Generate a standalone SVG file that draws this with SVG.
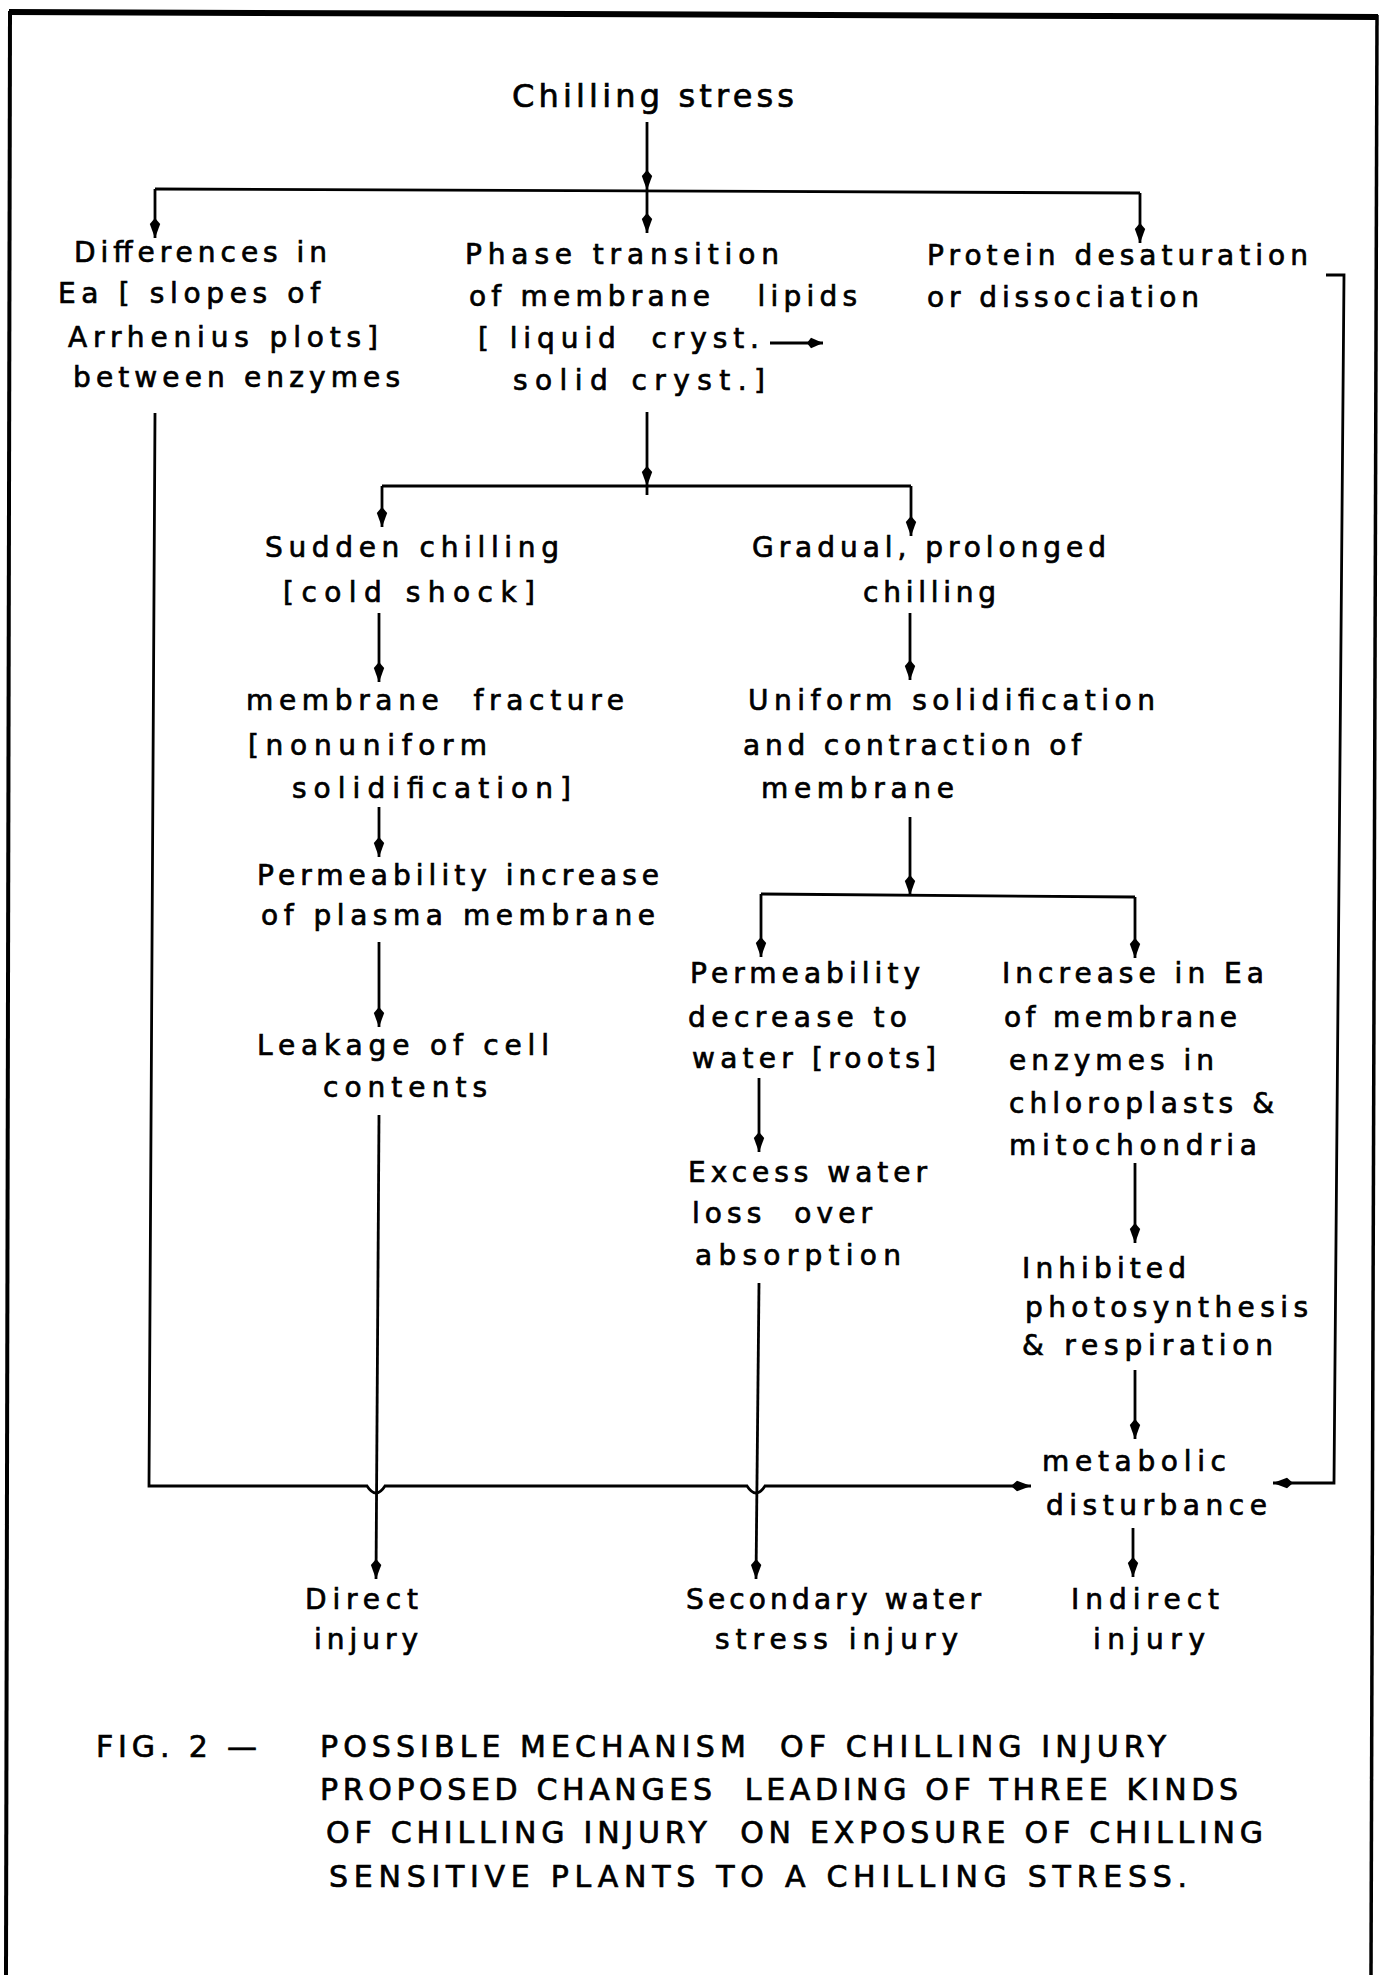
<svg xmlns="http://www.w3.org/2000/svg" width="1384" height="1975" viewBox="0 0 1384 1975">
  <style>
    .t { font-family: "DejaVu Sans", "Liberation Sans", sans-serif; font-size: 28px; fill: #000; stroke: #000; stroke-width: 0.7px; }
    .title { font-size: 32px; }
    .cap { font-size: 30px; }
    .c { fill: none; stroke: #000; stroke-width: 2.8; }
    .a { marker-end: url(#ah); }
    .frame { fill: none; stroke: #000; }
  </style>
  <defs>
    <marker id="ah" viewBox="0 0 20 12" refX="20" refY="6" markerWidth="20" markerHeight="12" markerUnits="userSpaceOnUse" orient="auto">
      <path d="M0,6 L6,0.8 L20,6 L6,11.2 Z" fill="#000"/>
    </marker>
    <marker id="ahs" viewBox="0 0 16 12" refX="16" refY="6" markerWidth="16" markerHeight="12" markerUnits="userSpaceOnUse" orient="auto">
      <path d="M0,6 L4,0.8 L16,6 L4,11.2 Z" fill="#000"/>
    </marker>
  </defs>

  <!-- page frame: heavy top rule, open bottom -->
  <g id="frame">
    <path class="frame" d="M9,12 L1378,17" stroke-width="6"/>
    <path class="frame" d="M10,11 L6,1975" stroke-width="4"/>
    <path class="frame" d="M1377,15 L1371,1975" stroke-width="3.5"/>
  </g>

  <g id="connectors">
    <!-- chilling stress trunk and first split -->
    <path class="c a" d="M647,122 L647,190"/>
    <path class="c" d="M155,189 L1140,193"/>
    <path class="c a" d="M155,189 L155,238"/>
    <path class="c a" d="M647,191 L647,233"/>
    <path class="c a" d="M1140,193 L1140,243"/>

    <!-- phase transition split -->
    <path class="c a" d="M647,412 L647,486"/>
    <path class="c" d="M647,486 L647,495"/>
    <path class="c" d="M382,486 L911,486"/>
    <path class="c a" d="M382,486 L382,527"/>
    <path class="c a" d="M911,486 L911,536"/>

    <!-- sudden chilling chain -->
    <path class="c a" d="M379,613 L379,682"/>
    <path class="c a" d="M379,807 L379,857"/>
    <path class="c a" d="M379,942 L379,1027"/>
    <path class="c a" d="M379,1115 L376,1579"/>

    <!-- gradual chilling chain -->
    <path class="c a" d="M910,613 L910,680"/>
    <path class="c a" d="M910,817 L910,895"/>
    <path class="c" d="M761,894 L1135,897"/>
    <path class="c a" d="M761,894 L761,957"/>
    <path class="c a" d="M1135,897 L1135,958"/>
    <path class="c a" d="M759,1078 L759,1152"/>
    <path class="c a" d="M759,1283 L756,1579"/>
    <path class="c a" d="M1135,1163 L1135,1243"/>
    <path class="c a" d="M1135,1370 L1135,1439"/>
    <path class="c a" d="M1133,1528 L1133,1577"/>

    <!-- left return line with hops over the verticals -->
    <path class="c a" d="M155,413 L149,1486 L367,1486 Q376,1500 385,1486 L747,1486 Q756,1500 765,1486 L1031,1486"/>

    <!-- right return line from protein desaturation -->
    <path class="c a" d="M1326,275 L1344,275 L1334,1483 L1273,1483"/>
  </g>

  <g id="n-chilling-stress">
    <text class="t title" x="512" y="107" textLength="282" lengthAdjust="spacing">Chilling stress</text>
  </g>

  <g id="n-differences">
    <text class="t" x="74" y="262" textLength="253" lengthAdjust="spacing">Differences in</text>
    <text class="t" x="58" y="303" textLength="262" lengthAdjust="spacing">Ea [ slopes of</text>
    <text class="t" x="68" y="347" textLength="310" lengthAdjust="spacing">Arrhenius plots]</text>
    <text class="t" x="73" y="387" textLength="327" lengthAdjust="spacing">between enzymes</text>
  </g>

  <g id="n-phase-transition">
    <text class="t" x="465" y="264" textLength="314" lengthAdjust="spacing">Phase transition</text>
    <text class="t" x="469" y="306" textLength="388" lengthAdjust="spacing">of membrane&#160;&#160; lipids</text>
    <text class="t" x="478" y="348" textLength="281" lengthAdjust="spacing">[ liquid&#160; cryst.</text>
    <path class="c" d="M770,343 L823,343" stroke-width="3" marker-end="url(#ahs)"/>
    <text class="t" x="513" y="390" textLength="252" lengthAdjust="spacing">solid cryst.]</text>
  </g>

  <g id="n-protein">
    <text class="t" x="927" y="265" textLength="381" lengthAdjust="spacing">Protein desaturation</text>
    <text class="t" x="927" y="307" textLength="272" lengthAdjust="spacing">or dissociation</text>
  </g>

  <g id="n-sudden">
    <text class="t" x="265" y="557" textLength="294" lengthAdjust="spacing">Sudden chilling</text>
    <text class="t" x="283" y="602" textLength="252" lengthAdjust="spacing">[cold shock]</text>
  </g>

  <g id="n-gradual">
    <text class="t" x="752" y="557" textLength="354" lengthAdjust="spacing">Gradual, prolonged</text>
    <text class="t" x="863" y="602" textLength="133" lengthAdjust="spacing">chilling</text>
  </g>

  <g id="n-fracture">
    <text class="t" x="246" y="710" textLength="378" lengthAdjust="spacing">membrane&#160; fracture</text>
    <text class="t" x="248" y="755" textLength="239" lengthAdjust="spacing">[nonuniform</text>
    <text class="t" x="292" y="798" textLength="279" lengthAdjust="spacing">solidification]</text>
  </g>

  <g id="n-uniform">
    <text class="t" x="748" y="710" textLength="407" lengthAdjust="spacing">Uniform solidification</text>
    <text class="t" x="743" y="755" textLength="338" lengthAdjust="spacing">and contraction of</text>
    <text class="t" x="761" y="798" textLength="193" lengthAdjust="spacing">membrane</text>
  </g>

  <g id="n-perm-increase">
    <text class="t" x="257" y="885" textLength="402" lengthAdjust="spacing">Permeability increase</text>
    <text class="t" x="261" y="925" textLength="394" lengthAdjust="spacing">of plasma membrane</text>
  </g>

  <g id="n-leakage">
    <text class="t" x="257" y="1055" textLength="292" lengthAdjust="spacing">Leakage of cell</text>
    <text class="t" x="323" y="1097" textLength="164" lengthAdjust="spacing">contents</text>
  </g>

  <g id="n-perm-decrease">
    <text class="t" x="690" y="983" textLength="230" lengthAdjust="spacing">Permeability</text>
    <text class="t" x="688" y="1027" textLength="219" lengthAdjust="spacing">decrease to</text>
    <text class="t" x="692" y="1068" textLength="244" lengthAdjust="spacing">water [roots]</text>
  </g>

  <g id="n-excess-water">
    <text class="t" x="688" y="1182" textLength="239" lengthAdjust="spacing">Excess water</text>
    <text class="t" x="692" y="1223" textLength="180" lengthAdjust="spacing">loss&#160; over</text>
    <text class="t" x="695" y="1265" textLength="206" lengthAdjust="spacing">absorption</text>
  </g>

  <g id="n-ea-increase">
    <text class="t" x="1002" y="983" textLength="262" lengthAdjust="spacing">Increase in Ea</text>
    <text class="t" x="1004" y="1027" textLength="233" lengthAdjust="spacing">of membrane</text>
    <text class="t" x="1009" y="1070" textLength="205" lengthAdjust="spacing">enzymes in</text>
    <text class="t" x="1009" y="1113" textLength="265" lengthAdjust="spacing">chloroplasts &amp;</text>
    <text class="t" x="1009" y="1155" textLength="248" lengthAdjust="spacing">mitochondria</text>
  </g>

  <g id="n-inhibited">
    <text class="t" x="1022" y="1278" textLength="164" lengthAdjust="spacing">Inhibited</text>
    <text class="t" x="1025" y="1317" textLength="283" lengthAdjust="spacing">photosynthesis</text>
    <text class="t" x="1022" y="1355" textLength="251" lengthAdjust="spacing">&amp; respiration</text>
  </g>

  <g id="n-metabolic">
    <text class="t" x="1042" y="1471" textLength="184" lengthAdjust="spacing">metabolic</text>
    <text class="t" x="1046" y="1515" textLength="221" lengthAdjust="spacing">disturbance</text>
  </g>

  <g id="n-direct">
    <text class="t" x="305" y="1609" textLength="113" lengthAdjust="spacing">Direct</text>
    <text class="t" x="314" y="1649" textLength="104" lengthAdjust="spacing">injury</text>
  </g>

  <g id="n-secondary">
    <text class="t" x="686" y="1609" textLength="295" lengthAdjust="spacing">Secondary water</text>
    <text class="t" x="715" y="1649" textLength="243" lengthAdjust="spacing">stress injury</text>
  </g>

  <g id="n-indirect">
    <text class="t" x="1071" y="1609" textLength="148" lengthAdjust="spacing">Indirect</text>
    <text class="t" x="1093" y="1649" textLength="112" lengthAdjust="spacing">injury</text>
  </g>

  <g id="caption">
    <text class="t cap" x="96" y="1757" textLength="161" lengthAdjust="spacing">FIG. 2 —</text>
    <text class="t cap" x="320" y="1757" textLength="846" lengthAdjust="spacing">POSSIBLE MECHANISM&#160; OF CHILLING INJURY</text>
    <text class="t cap" x="320" y="1800" textLength="918" lengthAdjust="spacing">PROPOSED CHANGES&#160; LEADING OF THREE KINDS</text>
    <text class="t cap" x="326" y="1843" textLength="937" lengthAdjust="spacing">OF CHILLING INJURY&#160; ON EXPOSURE OF CHILLING</text>
    <text class="t cap" x="329" y="1887" textLength="858" lengthAdjust="spacing">SENSITIVE PLANTS TO A CHILLING STRESS.</text>
  </g>
</svg>
